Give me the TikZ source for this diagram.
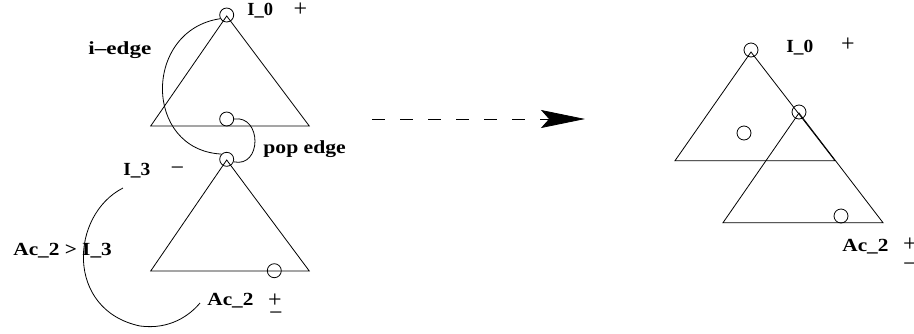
\documentclass[tikz,border=0pt]{standalone}
\usepackage{graphicx}
\usepackage{fontspec}
\setmainfont{Liberation Serif}
\usetikzlibrary{arrows.meta}
\begin{document}
\begin{tikzpicture}[x=1pt,y=-1pt, line width=0.8pt,
  vtx/.style={draw,circle,minimum size=14pt,inner sep=0pt},
  lbl/.style={font=\fontsize{18.5}{22}\selectfont\bfseries,inner sep=0pt,anchor=base west},
  sgn/.style={font=\fontsize{24}{26}\selectfont,inner sep=0pt,anchor=base}]
\useasboundingbox (0,0) rectangle (914,333);
% left upper tree
\draw (226.7,16) coordinate (t1a) -- (150.7,126) coordinate (t1l) -- (309.3,126) coordinate (t1r) -- cycle;
\node[vtx] (ta) at (226.7,15) {};
\node[vtx] (bc) at (226.7,119) {};
% left lower tree
\draw (226.7,160) coordinate (t2a) -- (150.7,271) coordinate (t2l) -- (309.3,271) coordinate (t2r) -- cycle;
\node[vtx] (lb) at (226.7,159.3) {};
\node[vtx] (lc) at (274.3,270.7) {};
% edges
\draw (ta.210) .. controls (143,30) and (143,150) .. (lb.north west);
\draw (bc.east) .. controls (262,115) and (262,168) .. (lb.-20);
\coordinate (ac1) at (123,188);
\coordinate (ac2) at (200,303);
\draw (ac1) .. controls (70,215) and (65,310) .. (140,326) .. controls (170,330) and (190,315) .. (ac2);
% labels left
\node[lbl] (l1) at (247,15) {I\_0};
\node[sgn] (s1) at (300.5,16) {+};
\node[lbl] (l2) at (88,54) {\scalebox{1.25}[1]{i–edge}};
\node[lbl] (l3) at (263,153) {\scalebox{1.17}[1]{pop edge}};
\node[lbl] (l4) at (123,175) {\scalebox{1.05}[1]{I\_3}};
\node[sgn] (s2) at (177.5,175) {−};
\node[lbl] (l5) at (13,255) {\scalebox{1.15}[1]{Ac\_2 > I\_3}};
\node[lbl] (l6) at (207,305.5) {\scalebox{1.15}[1]{Ac\_2}};
\node[sgn] (s3) at (275,307.5) {+};
\node[sgn] (s4) at (276,320) {−};
% arrow
\coordinate (ar1) at (372,119);
\coordinate (ar2) at (585,119);
\draw[dash pattern=on 13pt off 15pt, -{Stealth[length=44pt,width=18pt,inset=8pt]}] (ar1) -- (ar2);
% right trees
\draw (751,52) coordinate (r1a) -- (675,160.7) coordinate (r1l) -- (835,160.7) coordinate (r1r) -- cycle;
\draw (799,113) coordinate (r2a) -- (723,222.7) coordinate (r2l) -- (883,222.7) coordinate (r2r) -- cycle;
\node[vtx] (ra) at (751,50) {};
\node[vtx] (rb) at (744,133) {};
\node[vtx] (rc) at (799,112) {};
\node[vtx] (rd) at (841,216) {};
\node[lbl] (r1) at (786,52) {\scalebox{1.05}[1]{I\_0}};
\node[sgn] (r2) at (848,51) {+};
\node[lbl] (r3) at (842,251) {\scalebox{1.15}[1]{Ac\_2}};
\node[sgn] (r4) at (910,251) {+};
\node[sgn] (r5) at (910,271) {−};
\end{tikzpicture}
\end{document}
